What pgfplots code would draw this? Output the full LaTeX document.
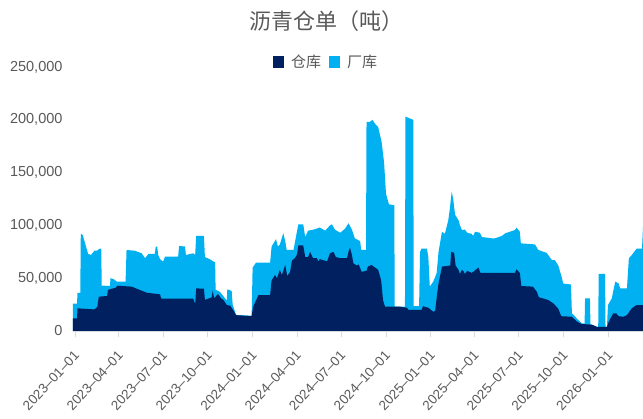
\documentclass[border=0pt]{standalone}
\usepackage{fontspec}
\setmainfont{Liberation Sans}
\newfontfamily\cjk{Noto Sans CJK SC}
\usepackage{pgfplots}
\pgfplotsset{compat=1.18}
\definecolor{navy}{HTML}{002060}
\definecolor{sky}{HTML}{00B0F0}
\definecolor{txt}{HTML}{595959}
\definecolor{axl}{HTML}{D9D9D9}
\begin{document}
\begin{tikzpicture}
\begin{axis}[
  at={(0,0)}, anchor=south west,
  scale only axis, width=570pt, height=264pt,
  xmin=-4, xmax=1167, ymin=0, ymax=250000,
  enlargelimits=false,
  axis x line*=bottom, axis y line*=left,
  y axis line style={draw=none},
  x axis line style={draw=axl, line width=0.8pt, -},
  xtick={0,90,181,273,365,456,547,639,731,821,912,1004,1096},
  xticklabels={2023--01--01,2023--04--01,2023--07--01,2023--10--01,2024--01--01,2024--04--01,2024--07--01,2024--10--01,2025--01--01,2025--04--01,2025--07--01,2025--10--01,2026--01--01},
  xtick style={draw=axl, line width=0.8pt},
  tick align=outside, major tick length=6pt,
  ytick={0,50000,100000,150000,200000,250000},
  yticklabels={0,{50,000},{100,000},{150,000},{200,000},{250,000}},
  ytick style={draw=none},
  scaled y ticks=false,
  tick label style={text=txt},
  xticklabel style={font=\fontsize{13.5}{15}\selectfont, xshift=-2pt, yshift=-11pt, rotate=47, anchor=north east, inner sep=1pt},
  yticklabel style={font=\fontsize{14.5}{16}\selectfont, xshift=-1pt},
  title={沥青仓单（吨）},
  title style={font=\fontsize{22}{25}\cjk, text=txt, at={(0.444,1.151)}, anchor=center},
  legend style={draw=none, fill=none, at={(0.444,1.019)}, anchor=center,
    legend columns=2, font=\fontsize{15}{18}\cjk, text=txt,
    /tikz/every odd column/.append style={column sep=5pt},
    /tikz/every even column/.append style={column sep=6pt}},
  legend image code/.code={\fill[#1] (0pt,-6pt) rectangle (11pt,6pt);},
]
% total (top of light blue area)
\addplot[fill=sky, draw=none, forget plot] coordinates {
(-4,26000) (4.5,26000) (5,36000) (11,36000) (12,92000) (16,91000) (27,73000) (33,72000) (40,76000) (45,76000) (51,78000) (54,78000) (55,43000) (72,42600) (73,50000) (80,49000) (86,46700) (104,46700) (106,76700) (123,76000) (137,73600) (144,69000) (151,73000) (164,73000) (166,80000) (169,80000) (171,72000) (175,68000) (181,65600) (185,70400) (212,70400) (214,80500) (226,80000) (228,72000) (243,73600) (247,72000) (249,90000) (265,90000) (267,70000) (277,68000) (284,66000) (288,65000) (289,39000) (298,37000) (310,30000) (312,29000) (313,39500) (322,38000) (324,25000) (331,15200) (363,14500) (365,60000) (372,64700) (401,64700) (404,80000) (408,83000) (413,87000) (417,80000) (421,82000) (428,92500) (432,85000) (435,76700) (449,76700) (456,94000) (459,101000) (469,101000) (473,89000) (479,95000) (490,96000) (497,97000) (503,98000) (514,95000) (524,100000) (528,101000) (534,96000) (545,93000) (555,97000) (562,102000) (569,96000) (575,87800) (586,85000) (588,76700) (598,76700) (599,198000) (606,198000) (611,200000) (617,196000) (623,193000) (630,179000) (635,160000) (639,130000) (645,120000) (656,119000) (657,23000) (678,23000) (679,203000) (695,200000) (696,23500) (707,23500) (709,75000) (712,78000) (723,78000) (726,70000) (729,42000) (736,46700) (743,54600) (747,75000) (754,94000) (760,92000) (767,105000) (770,115000) (774,132000) (777,125000) (781,110000) (788,105000) (791,100000) (795,95600) (801,96000) (806,93000) (815,92000) (818,90000) (822,94000) (832,93000) (836,89000) (856,87800) (863,87800) (877,90000) (884,92500) (904,95600) (907,98000) (914,94000) (916,83000) (945,82000) (952,76700) (969,74000) (980,67000) (986,67000) (993,62000) (1000,51000) (1003,45000) (1019,44000) (1021,16700) (1031,12000) (1041,7300) (1047,7000) (1048,31000) (1058,31000) (1059,6500) (1072,4000) (1075,4000) (1076,54000) (1089,54000) (1090,4000) (1093,4000) (1095,24600) (1103,31000) (1106,38000) (1110,46700) (1117,45000) (1120,40400) (1134,40400) (1138,68800) (1144,72000) (1154,78000) (1165,78000) (1167,98800)
} \closedcycle;
% warehouse
\addplot[fill=navy, draw=none, forget plot] coordinates {
(-4,12000) (4.5,12000) (5,21500) (38,20500) (42,21000) (46,23000) (49,32500) (62,33000) (66,33000) (68,39000) (72,39500) (84,41000) (87,42900) (117,42000) (127,40000) (137,38200) (147,36300) (175,34700) (177,30600) (243,30600) (247,25600) (249,40400) (265,40000) (267,29400) (281,31900) (283,38200) (286,31000) (294,35000) (300,31000) (305,29400) (312,24600) (319,24000) (325,19900) (331,15000) (363,14000) (366,23000) (377,34000) (401,34000) (404,48000) (411,53000) (415,50000) (421,57800) (425,53000) (432,62500) (436,52000) (442,56000) (446,67000) (450,68000) (456,72000) (459,81000) (469,81000) (473,70000) (479,70000) (483,75000) (489,69000) (497,69000) (500,66000) (503,68000) (518,66000) (524,73600) (531,75000) (536,70000) (545,69000) (559,69000) (562,75000) (565,79000) (569,72000) (572,64000) (579,62000) (583,63000) (589,56000) (599,57000) (602,61000) (609,62500) (617,60000) (623,57800) (629,48000) (633,29000) (637,23000) (668,23000) (682,22000) (685,20000) (712,20000) (715,23500) (726,22000) (736,18300) (740,19000) (744,35000) (747,45000) (754,61000) (771,62000) (773,75000) (779,74000) (782,62000) (788,57800) (791,54000) (795,58000) (799,56000) (801,54000) (806,57000) (815,55000) (818,56000) (829,60000) (833,55000) (904,55000) (907,58400) (914,55000) (917,42600) (941,42000) (949,37000) (953,32000) (972,29400) (983,26000) (986,24600) (993,21000) (999,14000) (1021,13500) (1031,9000) (1041,6600) (1062,6000) (1072,4000) (1093,4000) (1096,8000) (1102,13500) (1106,16700) (1112,16700) (1117,14000) (1127,13500) (1134,15000) (1144,21500) (1154,24600) (1167,24600)
} \closedcycle;
\addlegendimage{fill=navy, draw=none}
\addlegendentry{仓库}
\addlegendimage{fill=sky, draw=none}
\addlegendentry{厂库}
\end{axis}
\pgfresetboundingbox
\path[use as bounding box] (-73pt,-88pt) rectangle (570pt,331pt);
\end{tikzpicture}
\end{document}
